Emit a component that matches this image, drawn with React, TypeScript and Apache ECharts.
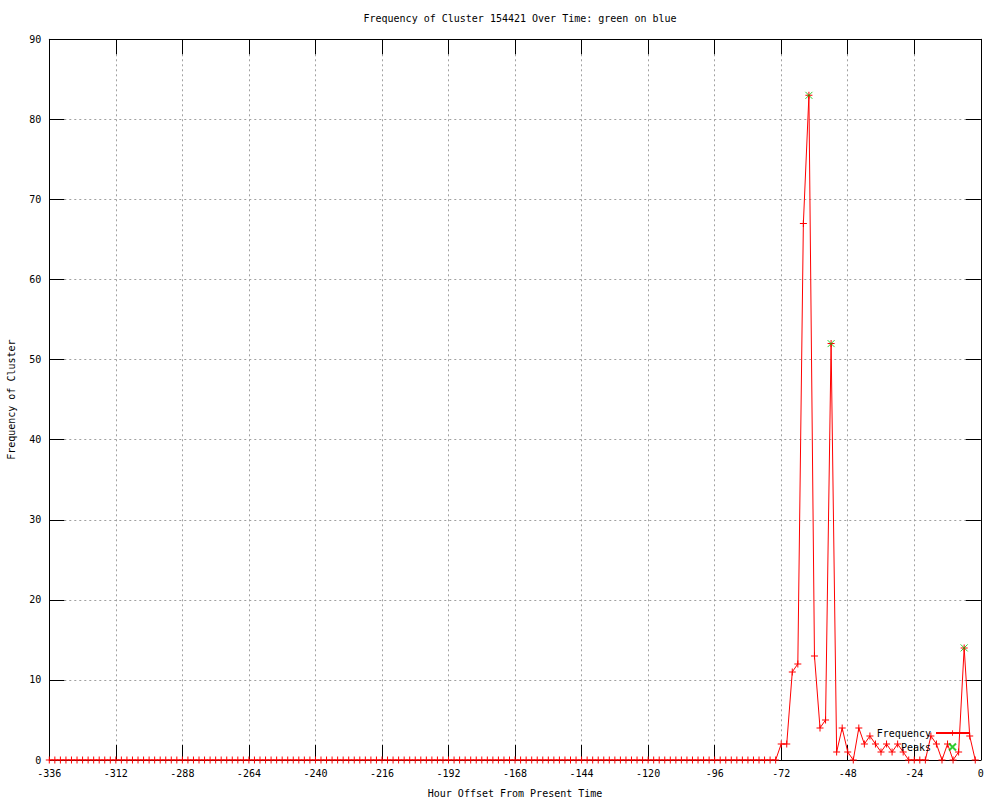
import React, { useEffect, useRef } from "react";
import * as echarts from "echarts";

const hours = [
  -336, -334, -332, -330, -328, -326, -324, -322, -320, -318, -316, -314,
  -312, -310, -308, -306, -304, -302, -300, -298, -296, -294, -292, -290,
  -288, -286, -284, -282, -280, -278, -276, -274, -272, -270, -268, -266,
  -264, -262, -260, -258, -256, -254, -252, -250, -248, -246, -244, -242,
  -240, -238, -236, -234, -232, -230, -228, -226, -224, -222, -220, -218,
  -216, -214, -212, -210, -208, -206, -204, -202, -200, -198, -196, -194,
  -192, -190, -188, -186, -184, -182, -180, -178, -176, -174, -172, -170,
  -168, -166, -164, -162, -160, -158, -156, -154, -152, -150, -148, -146,
  -144, -142, -140, -138, -136, -134, -132, -130, -128, -126, -124, -122,
  -120, -118, -116, -114, -112, -110, -108, -106, -104, -102, -100, -98,
  -96, -94, -92, -90, -88, -86, -84, -82, -80, -78, -76, -74,
  -72, -70, -68, -66, -64, -62, -60, -58, -56, -54, -52, -50,
  -48, -46, -44, -42, -40, -38, -36, -34, -32, -30, -28, -26,
  -24, -22, -20, -18, -16, -14, -12, -10, -8, -6, -4, -2,
];

const frequency = [
  0, 0, 0, 0, 0, 0, 0, 0, 0, 0, 0, 0,
  0, 0, 0, 0, 0, 0, 0, 0, 0, 0, 0, 0,
  0, 0, 0, 0, 0, 0, 0, 0, 0, 0, 0, 0,
  0, 0, 0, 0, 0, 0, 0, 0, 0, 0, 0, 0,
  0, 0, 0, 0, 0, 0, 0, 0, 0, 0, 0, 0,
  0, 0, 0, 0, 0, 0, 0, 0, 0, 0, 0, 0,
  0, 0, 0, 0, 0, 0, 0, 0, 0, 0, 0, 0,
  0, 0, 0, 0, 0, 0, 0, 0, 0, 0, 0, 0,
  0, 0, 0, 0, 0, 0, 0, 0, 0, 0, 0, 0,
  0, 0, 0, 0, 0, 0, 0, 0, 0, 0, 0, 0,
  0, 0, 0, 0, 0, 0, 0, 0, 0, 0, 0, 0,
  2, 2, 11, 12, 67, 83, 13, 4, 5, 52, 1, 4,
  1, 0, 4, 2, 3, 2, 1, 2, 1, 2, 1, 0,
  0, 0, 0, 3, 2, 0, 2, 0, 1, 14, 3, 0,
];

const peakHours = [-62, -54, -6];
const peakValues = [83, 52, 14];

const titleText = "Frequency of Cluster 154421 Over Time: green on blue";
const xName = "Hour Offset From Present Time";
const yName = "Frequency of Cluster";

const FONT = "DejaVu Sans Mono";
const PLUS = "path://M3,0h1v7h-1zM0,3h7v1h-7z";
const CROSS = "path://M0,0L7,7M7,0L0,7";

export default function App() {
  const ref = useRef<HTMLDivElement>(null);

  useEffect(() => {
    if (!ref.current) return;
    const chart = echarts.init(ref.current, null, { renderer: "svg", width: 1000, height: 800 });
    const textStyle = { fontFamily: FONT, fontSize: 10, color: "#000" };
    const gridLine = { show: true, lineStyle: { color: "#a0a0a0", type: [2, 3] as any, width: 1 } };
    const tick = { show: true, inside: true, length: 15, lineStyle: { color: "#000", width: 1 } };
    const axisLine = { show: true, onZero: false, lineStyle: { color: "#000", width: 1 } };

    chart.setOption({
      animation: false,
      backgroundColor: "#fff",
      title: {
        text: titleText,
        left: 515,
        top: 8,
        textAlign: "center",
        textStyle: { ...textStyle, fontWeight: "normal" },
      },
      legend: {
        data: ["Frequency", "Peaks"],
        orient: "vertical",
        align: "right",
        right: 30,
        top: 728,
        itemWidth: 33,
        itemHeight: 7,
        itemGap: 4,
        padding: 0,
        selectedMode: false,
        textStyle: { ...textStyle, padding: [0, 0, 0, 0] },
      },
      grid: {
        left: 49.3,
        right: 19.2,
        top: 39.3,
        bottom: 40,
        containLabel: false,
        outerBoundsMode: "none",
      },
      xAxis: [
        {
          type: "value",
          min: -336,
          max: 0,
          interval: 24,
          position: "bottom",
          name: xName,
          nameLocation: "middle",
          nameGap: 28,
          nameTextStyle: textStyle,
          axisLine,
          axisTick: tick,
          splitLine: gridLine,
          axisLabel: { ...textStyle, margin: 8 },
        },
        {
          type: "value",
          min: -336,
          max: 0,
          interval: 24,
          position: "top",
          axisLine,
          axisTick: tick,
          splitLine: { show: false },
          axisLabel: { show: false },
        },
      ],
      yAxis: [
        {
          type: "value",
          min: 0,
          max: 90,
          interval: 10,
          position: "left",
          name: yName,
          nameLocation: "middle",
          nameGap: 33,
          nameTextStyle: textStyle,
          axisLine,
          axisTick: tick,
          splitLine: gridLine,
          axisLabel: { ...textStyle, margin: 8 },
        },
        {
          type: "value",
          min: 0,
          max: 90,
          interval: 10,
          position: "right",
          axisLine,
          axisTick: tick,
          splitLine: { show: false },
          axisLabel: { show: false },
        },
      ],
      series: [
        {
          name: "Frequency",
          type: "line",
          xAxisIndex: 0,
          yAxisIndex: 0,
          data: hours.map((h, i) => [h, frequency[i]]),
          symbol: PLUS,
          symbolSize: 7,
          showAllSymbol: true,
          lineStyle: { color: "#ff0000", width: 1 },
          itemStyle: { color: "#ff0000" },
          emphasis: { disabled: true },
        },
        {
          name: "Peaks",
          type: "scatter",
          xAxisIndex: 0,
          yAxisIndex: 0,
          data: peakHours.map((h, i) => [h, peakValues[i]]),
          symbol: CROSS,
          symbolSize: 7,
          itemStyle: { color: "#00c000", borderColor: "#00c000", borderWidth: 1 },
          emphasis: { disabled: true },
          z: 3,
        },
      ],
    });
    return () => chart.dispose();
  }, []);

  return (
    <div
      ref={ref}
      style={{ position: "fixed", left: 0, top: 0, width: 1000, height: 800, background: "#fff" }}
    />
  );
}
